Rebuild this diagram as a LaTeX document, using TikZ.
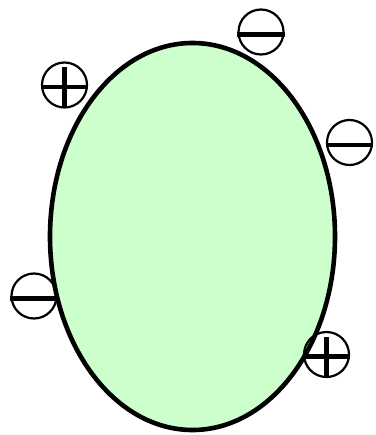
\documentclass[tikz,border=0pt]{standalone}
\definecolor{cellgreen}{HTML}{CCFFCC}
\tikzset{
  chargering/.style={draw,circle,line width=2.2pt,minimum size=45pt,inner sep=0pt},
  chargebar/.style={line width=4.5pt}
}
\begin{document}
\begin{tikzpicture}[x=1pt,y=-1pt]
  \useasboundingbox (0,0) rectangle (375,435);
  % cell body
  \draw[line width=4.6pt,fill=cellgreen] (192.5,236.5) ellipse [x radius=142.5,y radius=193.5];
  % negative charges
  \foreach \name/\pos in {m1/{(261,32)},m2/{(349.5,142.5)},m3/{(34,296)}} {
    \node[chargering] (\name) at \pos {};
    \draw[chargebar] ([yshift=-2.5pt]\name.west) -- ([yshift=-2.5pt]\name.east);
  }
  % positive charges
  \foreach \name/\pos in {p1/{(64.5,85)},p2/{(326.5,354.5)}} {
    \node[chargering] (\name) at \pos {};
    \draw[chargebar] ([yshift=-2pt]\name.west) -- ([yshift=-2pt]\name.east);
    \draw[chargebar] ([yshift=18pt]\name.center) -- ([yshift=-22pt]\name.center);
  }
\end{tikzpicture}
\end{document}
